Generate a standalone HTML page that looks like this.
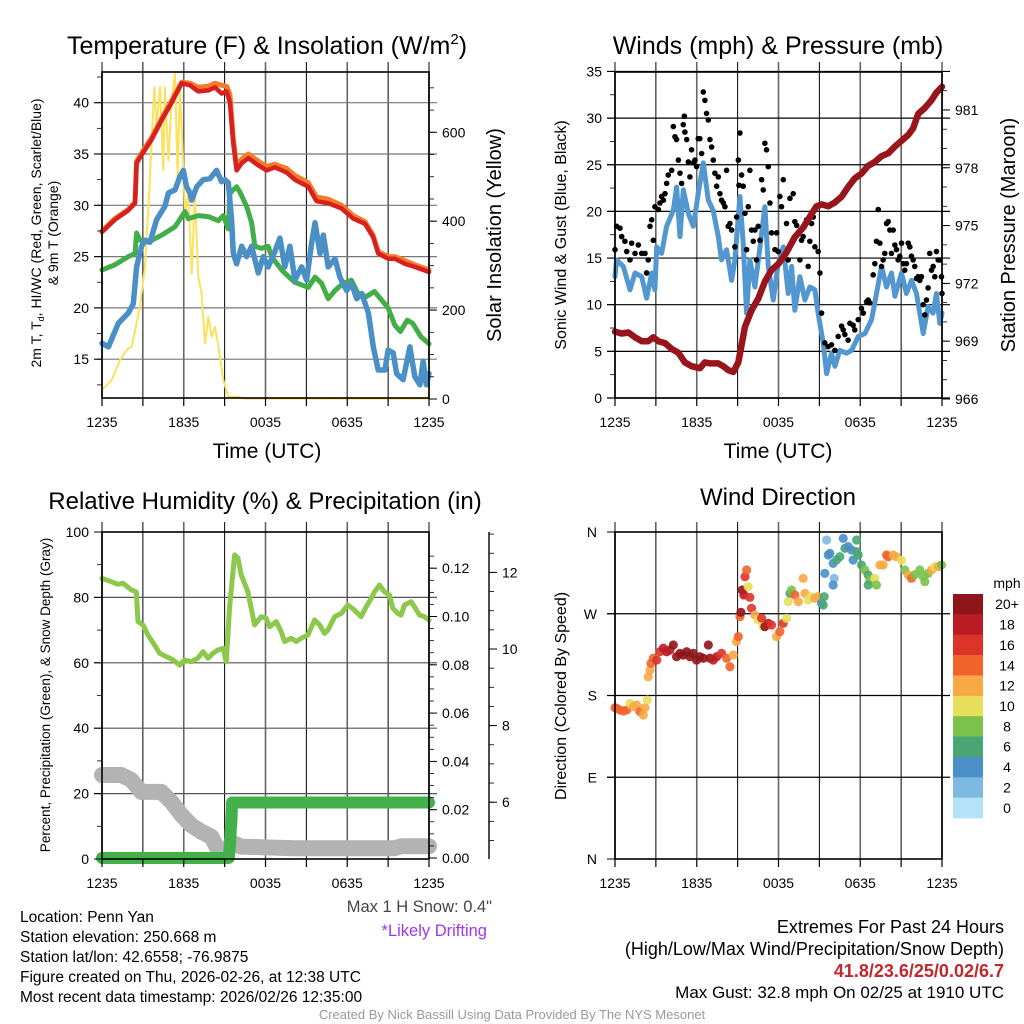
<!DOCTYPE html>
<html><head><meta charset="utf-8"><style>
html,body{margin:0;padding:0;background:#fff;}
svg{display:block;font-family:"Liberation Sans",Arial,sans-serif;}
</style></head><body>
<svg id="chart" width="1024" height="1024" viewBox="0 0 1024 1024" xmlns="http://www.w3.org/2000/svg">
<rect width="1024" height="1024" fill="#fff"/>
<g id="grid"></g>
<g id="marks"></g>
<g id="axes"></g>
<g id="texts" font-size="14" fill="#000">
<text x="267" y="54" font-size="25" text-anchor="middle">Temperature (F) &amp; Insolation (W/m<tspan dy="-10" font-size="15">2</tspan><tspan dy="10">)</tspan></text>
<text x="778" y="54" font-size="25" text-anchor="middle">Winds (mph) &amp; Pressure (mb)</text>
<text x="265" y="509" font-size="24" text-anchor="middle">Relative Humidity (%) &amp; Precipitation (in)</text>
<text x="778" y="505" font-size="24" text-anchor="middle">Wind Direction</text>
<text x="267" y="458" font-size="21" text-anchor="middle">Time (UTC)</text>
<text x="778" y="458" font-size="21" text-anchor="middle">Time (UTC)</text>
<text transform="translate(41,233) rotate(-90)" font-size="14" text-anchor="middle">2m T, T<tspan font-size="9" dy="3">d</tspan><tspan dy="-3">, HI/WC (Red, Green, Scarlet/Blue)</tspan></text>
<text transform="translate(58,233) rotate(-90)" font-size="14" text-anchor="middle">&amp; 9m T (Orange)</text>
<text transform="translate(501,235) rotate(-90)" font-size="20" text-anchor="middle">Solar Insolation (Yellow)</text>
<text transform="translate(566,235) rotate(-90)" font-size="16" text-anchor="middle">Sonic Wind &amp; Gust (Blue, Black)</text>
<text transform="translate(1015,235) rotate(-90)" font-size="20" text-anchor="middle">Station Pressure (Maroon)</text>
<text transform="translate(50,695) rotate(-90)" font-size="13.5" text-anchor="middle">Percent, Precipitation (Green), &amp; Snow Depth (Gray)</text>
<text transform="translate(566,696) rotate(-90)" font-size="16" text-anchor="middle">Direction (Colored By Speed)</text>
<text x="1007" y="588" font-size="14" text-anchor="middle">mph</text>
<g font-size="15.5">
<text x="20" y="922">Location: Penn Yan</text>
<text x="20" y="942">Station elevation: 250.668 m</text>
<text x="20" y="962">Station lat/lon: 42.6558; -76.9875</text>
<text x="20" y="982">Figure created on Thu, 2026-02-26, at 12:38 UTC</text>
<text x="20" y="1002">Most recent data timestamp: 2026/02/26 12:35:00</text>
</g>
<text x="492" y="912" font-size="16.5" text-anchor="end" fill="#444">Max 1 H Snow: 0.4"</text>
<text x="487" y="936" font-size="16.5" text-anchor="end" fill="#a335ee">*Likely Drifting</text>
<g font-size="18" text-anchor="end">
<text x="1004" y="933">Extremes For Past 24 Hours</text>
<text x="1004" y="955">(High/Low/Max Wind/Precipitation/Snow Depth)</text>
<text x="1004" y="977" font-weight="bold" fill="#c1272d">41.8/23.6/25/0.02/6.7</text>
<text x="1004" y="998" font-size="17">Max Gust: 32.8 mph On 02/25 at 1910 UTC</text>
</g>
<text x="512" y="1019" font-size="13" text-anchor="middle" fill="#999">Created By Nick Bassill Using Data Provided By The NYS Mesonet</text>
</g>
</svg>
<script>
// ---- Temperature panel data (hours since 1235 UTC) ----
const tempT=[0,0.95,1.93,2.42,2.54,2.91,3.64,4.38,5.11,5.85,6.46,7.07,7.8,8.29,8.78,9.15,9.39,9.64,9.88,10.25,10.74,11.47,12.08,12.69,13.55,14.16,15.14,15.75,16.6,17.58,18.44,19.3,19.9,20.27,21.0,21.5,22.23,22.96,24];
const tempV=[27.4,28.6,29.5,30.2,34.1,34.9,36.4,38.3,40.0,41.9,41.7,41.1,41.2,41.5,40.9,41.1,40.0,36.0,33.4,34.1,34.6,33.9,33.4,33.7,33.2,32.5,31.8,30.4,30.2,29.7,28.7,28.2,26.9,25.3,24.8,24.8,24.3,24.0,23.5];
const temp9V=[27.5,28.7,29.6,30.3,34.3,35.1,36.6,38.5,40.2,42.0,41.9,41.5,41.6,41.9,41.7,41.6,40.8,36.5,33.8,34.5,35.0,34.3,33.8,34.0,33.6,32.9,32.2,30.8,30.6,30.0,29.0,28.4,27.1,25.5,25.0,25.0,24.6,24.2,23.7];
const dewT=[0,0.95,1.93,2.42,2.54,2.79,3.4,4.38,5.36,6.09,6.33,7.07,7.8,8.54,8.9,9.27,9.39,9.88,10.12,10.61,10.98,11.22,11.71,12.2,12.45,13.18,13.8,14.16,15.14,15.63,16.12,16.6,17.1,17.7,18.3,18.8,19.4,20.0,20.5,21.0,21.5,21.9,22.4,22.8,23.4,24];
const dewV=[23.7,24.2,25.0,25.3,27.3,26.6,26.4,27.1,27.9,29.4,28.7,29.0,28.9,28.5,29.0,27.7,31.2,31.8,31.3,29.9,28.3,26.0,25.8,26.0,25.0,23.7,22.9,22.5,22.0,23.0,22.4,20.9,21.7,22.4,22.7,21.4,21.1,21.6,20.8,20.0,18.3,17.7,18.8,18.5,17.2,16.5];
const wcT=[0,0.47,1.2,1.93,2.3,2.54,2.91,3.15,3.52,4.01,4.62,4.87,5.36,5.72,5.97,6.21,6.46,6.58,6.95,7.43,7.92,8.41,8.78,9.02,9.27,9.51,9.64,9.88,10.25,10.61,10.98,11.47,11.84,12.2,12.69,13.06,13.42,13.79,14.16,14.65,15.02,15.38,15.63,16.0,16.24,16.6,17.1,17.46,17.95,18.32,18.69,19.06,19.55,19.91,20.27,20.76,21.0,21.37,21.62,22.1,22.6,22.96,23.33,23.57,23.8,24];
const wcV=[16.55,16.2,18.5,19.5,20.4,24.0,26.0,26.6,26.4,28.6,29.9,31.2,31.5,32.8,33.4,31.8,31.2,30.5,31.8,32.5,32.6,33.4,32.3,32.5,32.2,28.6,25.3,24.3,26.0,25.0,26.0,23.4,25.0,24.0,25.5,26.8,24.0,26.0,22.7,24.0,22.7,26.3,28.3,25.3,27.1,24.0,24.8,23.0,21.7,22.4,20.9,21.4,19.5,16.2,13.95,13.95,15.9,15.6,13.6,13.0,16.2,13.3,12.5,14.8,12.5,13.6];
const solarT=[0,0.71,1.32,1.81,2.18,2.54,2.79,3.15,3.4,3.64,3.84,4.01,4.26,4.5,4.62,4.87,5.11,5.36,5.55,5.72,5.89,6.09,6.33,6.58,6.82,7.07,7.31,7.56,7.8,8.05,8.29,8.54,8.9,9.27,10.0,10.49,23.94,24];
const solarV=[20,43,88,110,118,170,207,297,425,575,702,612,702,515,702,537,672,732,500,702,575,417,462,282,462,275,237,125,185,140,162,118,43,5,5,1,1,20];
// ---- Winds panel data ----
const windT=[0,0.12,0.61,1.1,1.47,1.96,2.32,2.69,2.93,3.06,3.42,3.79,4.28,4.52,4.77,5.01,5.38,5.75,6.11,6.48,6.85,7.21,7.58,7.82,8.19,8.56,8.8,9.17,9.41,9.66,9.9,10.27,10.64,11.0,11.25,11.61,11.98,12.35,12.71,12.96,13.2,13.57,13.94,14.3,14.67,14.91,15.28,15.53,15.89,16.14,16.5,16.99,17.36,17.85,18.34,18.83,19.19,19.56,19.93,20.29,20.54,21.03,21.39,21.76,22.13,22.62,22.98,23.35,23.59,23.84,24];
const windV=[13.0,14.8,14.1,11.6,13.4,13.0,10.7,13.4,11.6,16.2,15.5,18.4,20.1,22.6,17.3,22.3,19.8,18.4,21.9,25.2,21.2,20.1,17.3,14.8,15.9,12.6,14.8,21.6,16.6,9.1,14.8,11.9,16.2,20.5,14.1,10.5,14.4,16.2,11.2,14.1,9.4,13.0,10.5,11.9,11.6,9.1,5.9,2.6,4.8,3.4,5.1,4.8,5.1,6.6,6.9,8.4,11.2,14.1,11.9,13.4,10.9,13.4,11.2,12.6,11.2,6.9,9.8,9.1,11.2,8.0,9.1];
const gustT=[0,0.12,0.37,0.49,0.73,0.86,1.1,1.22,1.47,1.71,1.96,2.2,2.32,2.44,2.57,2.69,2.81,2.93,3.18,3.3,3.42,3.55,3.67,3.79,3.91,4.16,4.28,4.4,4.52,4.65,4.77,4.89,5.01,5.09,5.13,5.26,5.38,5.5,5.62,5.75,5.87,5.99,6.11,6.23,6.36,6.48,6.6,6.72,6.85,6.97,7.09,7.21,7.33,7.46,7.58,7.7,7.82,7.95,8.07,8.19,8.31,8.44,8.56,8.8,8.92,9.05,9.1,9.17,9.29,9.41,9.54,9.66,9.78,9.9,10.02,10.15,10.27,10.39,10.51,10.64,10.76,10.88,11.0,11.12,11.25,11.37,11.49,11.74,11.86,11.98,12.1,12.22,12.35,12.59,12.71,12.84,13.08,13.2,13.33,13.45,13.57,13.69,13.81,14.06,14.18,14.3,14.43,14.55,14.67,14.91,15.04,15.16,15.4,15.65,15.89,16.14,16.38,16.63,16.75,16.87,17.11,17.24,17.48,17.6,17.85,18.09,18.22,18.46,18.58,18.7,18.95,19.07,19.19,19.32,19.44,19.56,19.68,19.8,19.93,20.05,20.17,20.29,20.42,20.54,20.66,20.78,20.9,21.03,21.15,21.27,21.39,21.52,21.64,21.76,21.88,22.0,22.13,22.25,22.37,22.49,22.62,22.74,22.86,22.98,23.1,23.23,23.35,23.47,23.59,23.72,23.84,23.96,24];
const gustV=[15.9,18.4,18.2,17.3,16.8,15.7,14.8,16.6,15.5,16.4,15.5,15.5,13.4,14.8,18.4,19.1,16.9,20.5,20.2,20.9,21.6,21.2,21.9,23.0,23.9,24.4,29.1,28.0,27.7,25.5,24.1,23.0,29.3,30.2,28.5,27.7,25.3,23.7,26.6,25.2,25.5,24.8,27.8,27.8,26.2,32.8,31.9,30.5,29.8,27.7,26.9,25.5,24.1,22.7,23.7,21.9,21.2,20.9,20.5,24.4,18.4,18.7,18.0,16.2,19.4,25.5,22.8,28.4,23.9,22.7,19.8,15.9,20.5,24.4,18.0,16.8,18.0,14.8,18.4,16.9,23.4,22.3,27.3,26.6,24.8,20.9,17.7,15.9,17.7,15.7,21.6,20.5,23.4,18.7,14.8,21.4,21.9,18.9,18.5,17.7,14.8,16.9,17.3,19.1,14.1,16.8,18.7,19.4,16.2,15.7,13.4,9.1,5.9,5.5,5.7,5.1,6.6,7.7,7.3,6.8,6.2,8.0,7.8,7.3,8.4,9.6,9.1,10.3,10.5,10.2,13.2,14.4,16.8,20.2,16.6,14.1,14.8,15.5,18.7,18.9,18.0,15.5,18.0,16.4,15.9,14.8,15.2,16.6,14.4,13.7,14.4,16.6,16.2,15.2,14.8,14.1,12.8,13.0,12.6,13.0,10.0,8.9,10.5,11.8,15.5,13.7,14.1,13.0,15.7,14.8,14.8,13.0,11.2];
const presT=[0,0.49,0.98,1.47,1.96,2.44,2.81,3.18,3.67,4.16,4.65,5.13,5.62,6.23,6.6,6.97,7.58,7.95,8.31,8.68,9.05,9.54,10.02,10.51,11.0,11.49,11.98,12.59,13.2,13.81,14.43,14.79,15.16,15.65,16.14,16.63,17.11,17.6,18.09,18.58,19.07,19.56,20.05,20.54,21.03,21.52,21.88,22.25,22.74,23.23,23.59,24];
const presV=[969.5,969.4,969.45,969.2,969.0,969.0,969.2,969.0,968.9,968.6,968.4,967.9,967.7,967.6,967.9,967.85,967.85,967.7,967.5,967.4,967.9,969.75,970.6,971.2,972.1,972.7,973.0,973.6,974.4,974.9,975.6,976.0,976.1,976.0,976.2,976.5,977.0,977.45,977.7,978.1,978.3,978.6,978.75,979.1,979.4,979.7,980.05,980.8,981.1,981.5,981.9,982.2];
// ---- RH / precip / snow ----
const rhT=[0,0.68,1.17,1.54,2.15,2.52,2.64,3.01,3.37,3.86,4.23,4.72,5.21,5.7,6.06,6.55,7.04,7.41,7.78,8.14,8.51,8.88,9.12,9.36,9.73,9.98,10.22,10.71,10.95,11.2,11.69,12.05,12.3,12.79,13.15,13.4,13.89,14.25,14.62,15.11,15.6,15.97,16.33,16.58,17.07,17.56,18.04,18.53,19.02,19.39,19.76,20.0,20.37,20.73,21.1,21.34,21.71,21.96,22.2,22.69,22.93,23.3,23.67,24];
const rhV=[85.8,84.8,84.0,84.3,82.3,81.7,72.6,71.6,68.5,65.4,62.9,61.9,60.9,59.3,60.9,60.3,61.4,63.4,61.4,62.9,63.9,64.4,60.3,76.7,93.0,92.0,86.9,81.7,76.7,71.6,74.1,73.6,71.0,72.6,69.5,66.5,67.5,66.5,67.5,68.5,73.1,71.6,69.0,70.0,74.1,75.1,77.7,76.1,74.1,77.2,79.7,81.7,83.8,81.7,80.7,76.7,75.1,74.6,77.7,78.7,77.2,74.6,74.1,73.1];
const precipT=[0,9.3,9.4,9.45,9.5,9.55,24];
const precipV=[0,0,0.006,0.012,0.015,0.023,0.023];
const snowT=[0,1.42,2.15,2.89,4.35,5.09,5.82,6.55,7.29,8.02,8.75,9.24,9.5,10.22,14.13,21.47,22,24];
const snowV=[6.71,6.71,6.58,6.27,6.27,6.01,5.67,5.40,5.23,5.10,4.6,4.71,4.95,4.84,4.80,4.80,4.85,4.85];
// ---- Wind direction ----
const dirT=[0,0.12,0.37,0.61,0.86,1.1,1.34,1.59,1.83,2.08,2.2,2.37,2.44,2.57,2.64,2.81,3.06,3.3,3.55,3.79,4.03,4.28,4.52,4.77,5.01,5.26,5.5,5.75,5.99,6.23,6.48,6.85,6.97,7.21,7.46,7.82,8.19,8.44,8.68,8.92,9.05,9.17,9.24,9.34,9.46,9.54,9.66,9.78,9.9,10.02,10.27,10.51,10.76,10.88,11.0,11.25,11.49,11.86,12.1,12.35,12.59,12.71,12.84,12.96,13.2,13.45,13.81,13.94,14.18,14.43,14.67,14.91,15.16,15.28,15.35,15.4,15.53,15.65,15.77,16.01,16.09,16.01,16.26,16.5,16.75,16.87,17.11,17.36,17.48,17.73,17.73,17.85,18.09,18.34,18.58,18.7,18.58,19.07,19.19,19.44,19.68,19.93,20.05,20.42,20.66,21.03,21.27,21.52,21.76,22.0,22.37,22.62,22.74,22.98,23.23,23.47,23.72,23.96];
const dirV=[166.6,165.9,164,163,164,171.4,167.7,169.5,162.2,158.5,166.6,175,200.7,208,215.4,221,219,228.2,232,228.2,230,235.6,222.7,226.4,224.6,228.2,222.7,226.4,219,222.7,221,235.6,221,219,222.7,226.4,221,211.7,224.6,239.3,244.8,266.8,271.6,296.2,290.7,310.8,318.2,299.8,288.1,276,268.6,263.1,265,255.8,255.8,259.5,257.6,244.8,250.3,259.5,265,283.3,292.5,296.2,290.7,283.3,309,292.5,285.1,288.8,287,288.8,281.5,279.6,288.8,314.5,351.2,334.7,336.5,325.5,309,301.7,329.2,332.8,353,342,343.9,340.2,329.2,351.2,338.4,334.7,323.7,318.2,312.7,307.2,301.7,309,301.7,323.7,323.7,334.7,332.8,334.7,332.8,328.8,318.2,312.7,309,313,318.2,310.8,305.3,314.5,318.2,321.8,321.8,323.7];
const dirSpd=[14,14,14,14,14,10,12,12,14,12,12,10,12,12,14,14,16,16,18,18,18,20,20,20,20,20,20,20,20,20,20,20,20,18,18,16,14,14,12,12,14,14,20,20,18,16,14,10,16,16,12,10,16,10,20,18,16,12,14,16,10,10,6,8,14,12,12,12,10,10,12,12,4,6,6,4,2,4,4,4,2,4,6,6,4,6,4,4,4,6,6,6,6,8,6,8,6,10,8,12,12,14,14,12,12,10,8,12,14,8,8,8,8,8,12,10,12,8,8];
const speedBins=[0,2,4,6,8,10,12,14,16,18,20];
const speedLabels=["0","2","4","6","8","10","12","14","16","18","20+"];
const speedColors=["#b6e2f7","#7eb9e2","#4a8fc6","#49a673","#7ac24b","#e8e05a","#f8a845","#f0642c","#dd3428","#bb1c24","#8e1519"];
const xTickLabels=["1235","1835","0035","0635","1235"];
const tempTicks=[15,20,25,30,35,40];
const solarTicks=[0,200,400,600];
const windTicks=[0,5,10,15,20,25,30,35];
const presTicks=[966,969,972,975,978,981];
const rhTicks=[0,20,40,60,80,100];
const precipTicks=[0,0.02,0.04,0.06,0.08,0.10,0.12];
const snowTicks=[6,8,10,12];
const dirTicks=[0,90,180,270,360];
const dirLabels=["N","E","S","W","N"];

const NS="http://www.w3.org/2000/svg";
const G=document.getElementById('grid'),M=document.getElementById('marks'),A=document.getElementById('axes');
function mk(tag,parent,at){const e=document.createElementNS(NS,tag);for(const k in at)e.setAttribute(k,at[k]);parent.appendChild(e);return e;}
function xs(x0,x1){return t=>x0+t/24*(x1-x0);}
const P1x=xs(102,429),P2x=xs(615,942),P3x=xs(102,429),P4x=xs(615,942);
const yTemp=v=>102.7+(40-v)*10.26, ySolar=w=>399-w*0.4445;
const yWind=v=>398-v*9.33, yPres=p=>399-(p-966)*19.27;
const yRH=r=>859-r*3.27, yPrecip=p=>858-p*2415, ySnow=s=>1032-s*38.3;
const yDir=d=>859-d*0.9083;
function pathD(T,V,fx,fy){const n=Math.min(T.length,V.length);let s='';for(let i=0;i<n;i++)s+=(i?'L':'M')+fx(T[i]).toFixed(1)+','+fy(V[i]).toFixed(1);return s;}
function line(name,T,V,fx,fy,color,w,op){const p=mk('path',M,{d:pathD(T,V,fx,fy),fill:'none',stroke:color,'stroke-width':w,'stroke-linejoin':'round','stroke-linecap':'round',opacity:op||1});

return p;}
function text(par,x,y,s,anchor,size){const e=mk('text',par,{x:x,y:y,'text-anchor':anchor,'font-size':size||14});e.textContent=s;return e;}

function panel(x0,x1,y0,y1,hLines,hColor){
  for(let h=0;h<=24;h+=3){const x=x0+h/24*(x1-x0);
    mk('line',G,{x1:x,x2:x,y1:y0-10,y2:y1,stroke:(h%6?'#000':'#666'),'stroke-width':(h%6?1:1.6)});
    mk('line',A,{x1:x,x2:x,y1:y1,y2:y1+8,stroke:'#000','stroke-width':1.2});}
  hLines.forEach(y=>mk('line',G,{x1:x0-8,x2:x1+8,y1:y,y2:y,stroke:hColor||'#000','stroke-width':1.2}));
  mk('rect',A,{x:x0,y:y0,width:x1-x0,height:y1-y0,fill:'none',stroke:'#000','stroke-width':1.6});
  xTickLabels.forEach((s,i)=>text(A,x0+i*6/24*(x1-x0),y1+29,s,'middle',14));
}
function yAxis(x,ticks,fy,side,fmt,minor,y0,y1){
  const d=side==='l'?-1:1;
  ticks.forEach(v=>{const y=fy(v);mk('line',A,{x1:x,x2:x+d*8,y1:y,y2:y,stroke:'#000','stroke-width':1});
    text(A,x+d*13,y+5,fmt(v),side==='l'?'end':'start',14);});
  if(minor){for(let v=minor[0];v<=minor[1];v+=minor[2]){const y=fy(v);if(y<y0||y>y1)continue;mk('line',A,{x1:x,x2:x+d*5,y1:y,y2:y,stroke:'#000','stroke-width':0.8});}}
}
// Panel 1
panel(102,429,72,398,tempTicks.map(yTemp),'#777');
yAxis(102,tempTicks,yTemp,'l',v=>v,[12.5,42.5,2.5],72,398);
yAxis(429,solarTicks,ySolar,'r',v=>v,[0,700,50],72,398);
line('solar-insolation-line',solarT,solarV,P1x,ySolar,'#fbe25a',2);
line('dewpoint-line',dewT,dewV,P1x,yTemp,'#43ae47',5);
line('wind-chill-line',wcT,wcV,P1x,yTemp,'#4a8fc6',5.5);
line('temp-9m-line',tempT,temp9V,P1x,yTemp,'#f47c2a',5);
line('temp-2m-line',tempT,tempV,P1x,yTemp,'#d7201f',4.5);
// Panel 2
panel(615,942,72,398,windTicks.map(yWind),'#000');
yAxis(615,windTicks,yWind,'l',v=>v,[2.5,32.5,5],72,398);
yAxis(942,presTicks,yPres,'r',v=>v,[966,982,1],72,398);
line('sonic-wind-line',windT,windV,P2x,yWind,'#5297d0',5);
const gn=Math.min(gustT.length,gustV.length);
for(let i=0;i<gn;i++){const c=mk('circle',M,{cx:P2x(gustT[i]),cy:yWind(gustV[i]),r:2.8,fill:'#000'});

}
line('pressure-line',presT,presV,P2x,yPres,'#98161b',6.5);
// Panel 3
panel(102,429,532,859,rhTicks.filter(v=>v>0&&v<100).map(yRH),'#555');
yAxis(102,rhTicks,yRH,'l',v=>v,[10,90,20],532,859);
yAxis(429,precipTicks,yPrecip,'r',v=>v.toFixed(2),[0,0.13,0.005],532,859);
mk('line',A,{x1:489,x2:489,y1:532,y2:859,stroke:'#000','stroke-width':1.4});
yAxis(489,snowTicks,ySnow,'r',v=>v,[5,13.4,0.5],532,859);
line('snow-depth-line',snowT,snowV,P3x,ySnow,'#b3b3b3',16);
line('precip-line',precipT,precipV,P3x,yPrecip,'#43b14a',12);
line('rh-line',rhT,rhV,P3x,yRH,'#8cc84b',5);
// Panel 4
panel(615,942,532,859,dirTicks.filter(v=>v>0&&v<360).map(yDir),'#000');
dirTicks.forEach((v,i)=>{const y=yDir(v);mk('line',A,{x1:615,x2:607,y1:y,y2:y,stroke:'#000'});text(A,597,y+5,dirLabels[i],'end',14);});
function colorFor(s){let k=0;speedBins.forEach((b,i)=>{if(s>=b)k=i;});return speedColors[k];}
const dn=Math.min(dirT.length,dirV.length,dirSpd.length);
for(let i=0;i<dn;i++){const c=mk('circle',M,{cx:P4x(dirT[i]),cy:yDir(dirV[i]),r:4.6,fill:colorFor(dirSpd[i]),opacity:0.9});

}
// Colorbar
const cbTop=594,cbH=224/speedColors.length;
speedColors.slice().reverse().forEach((c,i)=>{const r=mk('rect',A,{x:953,y:cbTop+i*cbH,width:30,height:cbH+0.3,fill:c});


text(A,1007,cbTop+i*cbH+cbH/2+5,speedLabels[speedLabels.length-1-i],'middle',14);});
</script>
</body></html>
